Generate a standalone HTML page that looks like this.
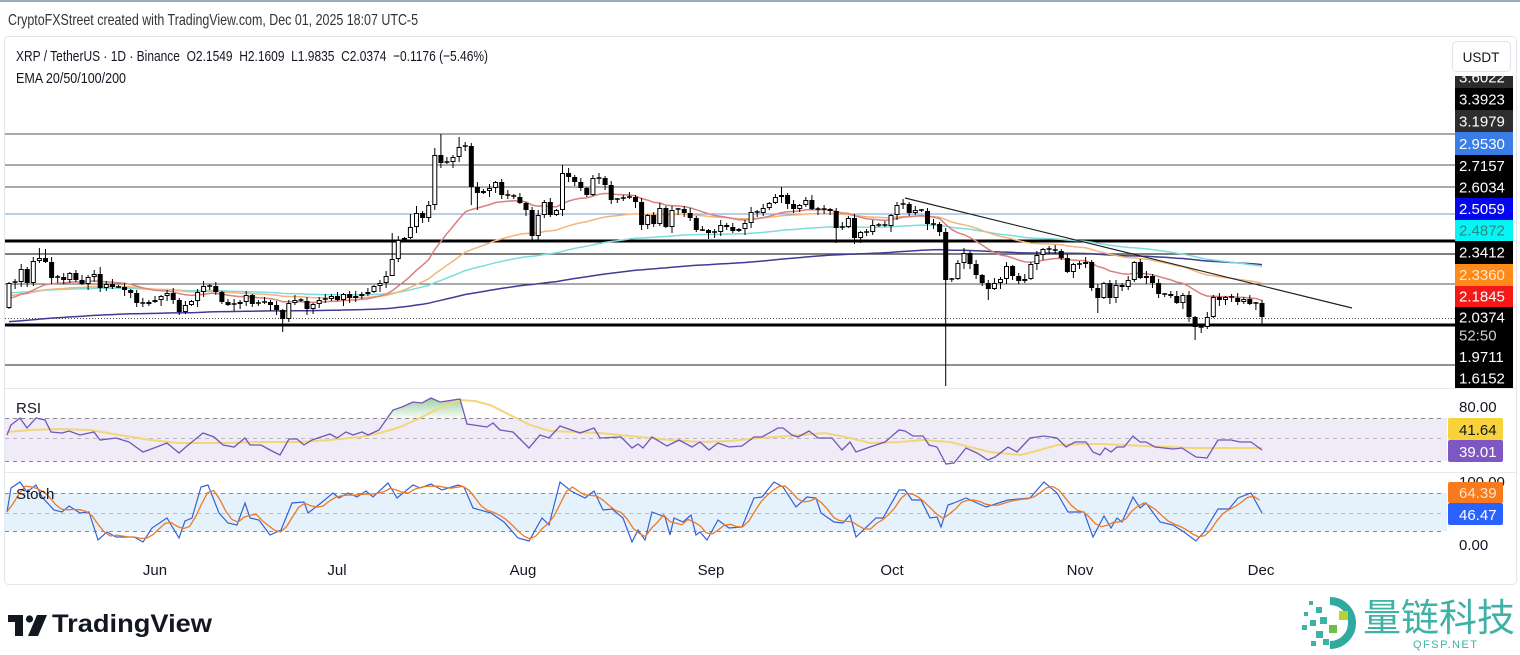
<!DOCTYPE html>
<html><head><meta charset="utf-8">
<style>
html,body{margin:0;padding:0;background:#fff;width:1520px;height:655px;overflow:hidden}
svg{display:block}
text{font-family:"Liberation Sans",sans-serif}
</style></head><body>
<svg id="s" width="1520" height="655" viewBox="0 0 1520 655" xmlns="http://www.w3.org/2000/svg">
<defs>
<clipPath id="mainClip"><rect x="5" y="37" width="1450" height="351"/></clipPath>
<clipPath id="colClip"><rect x="1450" y="76" width="70" height="312"/></clipPath>
<linearGradient id="gOB" x1="0" y1="0" x2="0" y2="1">
<stop offset="0" stop-color="#4caf50" stop-opacity="0.55"/><stop offset="1" stop-color="#4caf50" stop-opacity="0.05"/>
</linearGradient>
</defs>
<rect width="1520" height="655" fill="#fff"/>
<rect x="0" y="0" width="1520" height="2" fill="#9aabbb"/>
<rect x="4.5" y="36.5" width="1512" height="548" rx="4" fill="none" stroke="#e3e6ec"/>

<text x="8" y="25" font-size="16" fill="#333" textLength="410" lengthAdjust="spacingAndGlyphs">CryptoFXStreet created with TradingView.com, Dec 01, 2025 18:07 UTC-5</text>
<text x="16" y="61" font-size="15" fill="#131722" textLength="472" lengthAdjust="spacingAndGlyphs">XRP / TetherUS · 1D · Binance&#160; O2.1549&#160; H2.1609&#160; L1.9835&#160; C2.0374&#160; −0.1176 (−5.46%)</text>
<text x="16" y="83" font-size="15" fill="#131722" textLength="110" lengthAdjust="spacingAndGlyphs">EMA 20/50/100/200</text>

<!-- USDT box -->
<rect x="1452.5" y="41.5" width="58" height="30" rx="4" fill="#fff" stroke="#e0e3eb"/>
<text x="1481" y="62" font-size="13.5" fill="#131722" text-anchor="middle">USDT</text>

<!-- main pane horizontal lines -->
<g clip-path="url(#mainClip)">
<line x1="5" y1="134" x2="1455" y2="134" stroke="#555" stroke-width="1"/>
<line x1="5" y1="165" x2="1455" y2="165" stroke="#555" stroke-width="1"/>
<line x1="5" y1="187" x2="1455" y2="187" stroke="#555" stroke-width="1"/>
<line x1="5" y1="214" x2="1455" y2="214" stroke="#6f9fd8" stroke-width="1"/>
<line x1="5" y1="241" x2="1455" y2="241" stroke="#000" stroke-width="3"/>
<line x1="5" y1="254" x2="1455" y2="254" stroke="#555" stroke-width="1.4"/>
<line x1="5" y1="284" x2="1455" y2="284" stroke="#555" stroke-width="1"/>
<line x1="5" y1="318.5" x2="1455" y2="318.5" stroke="#444" stroke-width="1" stroke-dasharray="1,2"/>
<line x1="5" y1="325" x2="1455" y2="325" stroke="#000" stroke-width="3"/>
<line x1="5" y1="365" x2="1455" y2="365" stroke="#222" stroke-width="1"/>
<g id="emas"></g>
<g id="candles"></g>
<line x1="905" y1="198" x2="1352" y2="308" stroke="#222" stroke-width="1.2"/>
</g>

<!-- price label column -->
<g clip-path="url(#colClip)" font-size="15">
<rect x="1455" y="66" width="58" height="22" fill="#2b2b2b"/><text x="1459" y="82.5" fill="#fff">3.6022</text>
<rect x="1455" y="88" width="58" height="22" fill="#000"/><text x="1459" y="104.5" fill="#fff">3.3923</text>
<rect x="1455" y="110" width="58" height="22" fill="#2e2e2e"/><text x="1459" y="126.5" fill="#fff">3.1979</text>
<rect x="1455" y="132" width="58" height="23" fill="#3b7de6"/><text x="1459" y="149" fill="#fff">2.9530</text>
<rect x="1455" y="155" width="58" height="22" fill="#000"/><text x="1459" y="171" fill="#fff">2.7157</text>
<rect x="1455" y="177" width="58" height="21" fill="#000"/><text x="1459" y="192.5" fill="#fff">2.6034</text>
<rect x="1455" y="198" width="58" height="22" fill="#0606ee"/><text x="1459" y="214" fill="#fff">2.5059</text>
<rect x="1455" y="220" width="58" height="21" fill="#06f4f4"/><text x="1459" y="235.5" fill="#2c8888">2.4872</text>
<rect x="1455" y="241" width="58" height="23" fill="#000"/><text x="1459" y="257.5" fill="#fff">2.3412</text>
<rect x="1455" y="264" width="58" height="22" fill="#ff8a1c"/><text x="1459" y="280" fill="#ffe8c8">2.3360</text>
<rect x="1455" y="286" width="58" height="21" fill="#f41818"/><text x="1459" y="301.5" fill="#fff">2.1845</text>
<rect x="1455" y="307" width="58" height="39" fill="#000"/><text x="1459" y="322.5" fill="#fff">2.0374</text><text x="1459" y="340.5" fill="#d0d0d0">52:50</text>
<rect x="1455" y="346" width="58" height="22" fill="#000"/><text x="1459" y="362" fill="#fff">1.9711</text>
<rect x="1455" y="368" width="58" height="20" fill="#000"/><text x="1459" y="383.5" fill="#fff">1.6152</text>
</g>

<!-- pane separators -->
<line x1="5" y1="388.5" x2="1517" y2="388.5" stroke="#e6e8ee"/>
<line x1="5" y1="472.5" x2="1517" y2="472.5" stroke="#e6e8ee"/>

<!-- RSI pane -->
<rect x="5" y="418" width="1442" height="43" fill="#efebf7"/>
<g stroke="#8a8a8a" stroke-width="1" stroke-dasharray="4,4">
<line x1="5" y1="418.5" x2="1445" y2="418.5"/>
<line x1="5" y1="438.5" x2="1445" y2="438.5" stroke="#b8b8c0"/>
<line x1="5" y1="461.5" x2="1445" y2="461.5"/>
</g>
<polygon points="384,418 393,410 402,407 413,402 422,403 431,398 440,402 460,399 464,418" fill="url(#gOB)"/>
<polyline fill="none" stroke="#f3d67a" stroke-width="2" points="7,432 30,430 60,429 90,430 120,435 150,440 180,443 220,443 260,442 300,442 330,440 360,437 380,433 400,427 420,418 440,408 460,400 475,401 490,405 510,415 530,425 550,431 600,433 640,437 670,440 700,442 730,441 760,438 790,436 825,433 850,438 870,443 900,442 923,440 950,442 970,447 990,452 1021,455 1040,450 1057,445 1080,444 1102,444 1146,446 1191,448 1262,448"/>
<polyline fill="none" stroke="#7256b8" stroke-width="1.3" points="7,435 11,425 20,418 27,428 36,418 45,420 51,432 62,433 69,431 80,435 94,432 100,440 116,438 129,442 143,452 154,448 167,443 179,453 187,446 203,433 214,437 223,445 234,447 245,438 250,445 261,445 270,450 280,455 289,439 297,439 304,445 312,440 330,434 337,438 346,432 353,435 362,432 368,435 379,430 393,410 402,407 413,402 422,403 431,398 440,402 460,399 467,424 487,427 493,423 500,430 513,432 529,448 540,435 549,438 560,426 580,433 594,428 600,438 621,437 632,448 638,444 643,448 652,437 667,446 679,440 692,447 700,442 709,450 718,443 729,447 742,446 754,437 762,437 778,428 783,428 792,435 798,437 809,431 818,438 832,438 842,450 850,442 856,452 870,447 885,442 899,430 905,431 913,436 923,436 929,445 937,447 946,464 954,463 966,448 977,453 988,460 995,457 1008,447 1017,452 1030,438 1044,436 1057,438 1066,447 1075,442 1086,442 1093,452 1100,455 1105,448 1111,452 1117,447 1124,447 1133,436 1140,442 1146,442 1155,447 1173,449 1182,448 1196,457 1207,458 1218,440 1231,440 1240,442 1251,442 1262,450"/>
<text x="16" y="413" font-size="15" fill="#131722">RSI</text>
<text x="1459" y="412" font-size="15" fill="#131722">80.00</text>
<rect x="1448" y="418" width="55" height="22" rx="2" fill="#f7d23a"/><text x="1459" y="435" font-size="15" fill="#131722">41.64</text>
<rect x="1448" y="440" width="55" height="22" rx="2" fill="#7e57c2"/><text x="1459" y="457" font-size="15" fill="#fff">39.01</text>

<!-- Stoch pane -->
<rect x="5" y="493" width="1442" height="38" fill="#e5f1fb"/>
<g stroke="#8a8a8a" stroke-width="1" stroke-dasharray="4,4">
<line x1="5" y1="493.5" x2="1445" y2="493.5"/>
<line x1="5" y1="513.5" x2="1445" y2="513.5" stroke="#b8bcc4"/>
<line x1="5" y1="531.5" x2="1445" y2="531.5"/>
</g>
<polyline id="stochK" fill="none" stroke="#3461d8" stroke-width="1.2" points="7,512 11,488 20,482 27,492 36,485 42,497 54,510 62,512 69,506 80,513 89,512 98,540 107,532 116,537 134,537 143,542 152,528 167,518 179,538 185,521 192,518 201,487 208,485 219,513 228,523 237,525 245,503 250,518 259,520 270,535 281,530 292,503 304,502 308,513 321,503 333,493 339,498 348,493 357,497 366,491 373,497 388,483 397,498 413,485 420,488 431,484 442,490 458,485 464,487 473,508 491,513 504,522 518,538 529,541 542,518 549,525 560,482 571,491 585,498 594,491 603,510 612,509 623,518 632,542 638,530 645,540 652,512 665,517 670,535 674,518 683,522 691,515 696,535 700,532 707,540 718,520 729,528 742,527 754,498 762,497 774,482 783,487 796,507 807,497 816,498 821,513 834,522 843,523 850,515 856,537 876,518 883,518 899,490 905,490 912,500 921,500 930,518 937,517 941,527 948,505 954,503 966,498 986,507 1008,500 1030,498 1044,482 1057,493 1068,512 1084,512 1093,537 1104,516 1111,528 1117,518 1122,522 1133,497 1140,508 1146,503 1160,522 1173,525 1184,532 1196,541 1204,532 1218,509 1229,509 1238,498 1251,493 1262,513"/>
<polyline id="stochD" fill="none" stroke="#f07a22" stroke-width="1.3" points=""/>
<text x="16" y="499" font-size="15" fill="#131722">Stoch</text>
<text x="1459" y="487" font-size="15" fill="#131722">100.00</text>
<rect x="1448" y="482" width="55" height="21" rx="2" fill="#f97a1e"/><text x="1459" y="498" font-size="15" fill="#ffe3c6">64.39</text>
<rect x="1448" y="503" width="55" height="22" rx="2" fill="#2962ff"/><text x="1459" y="520" font-size="15" fill="#fff">46.47</text>
<text x="1459" y="550" font-size="15" fill="#131722">0.00</text>

<!-- time axis -->
<g font-size="15" fill="#131722" text-anchor="middle">
<text x="155" y="575">Jun</text>
<text x="337" y="575">Jul</text>
<text x="523" y="575">Aug</text>
<text x="711" y="575">Sep</text>
<text x="892" y="575">Oct</text>
<text x="1080" y="575">Nov</text>
<text x="1261" y="575">Dec</text>
</g>

<!-- TradingView logo -->
<g fill="#131722">
<rect x="8" y="615" width="15" height="7"/>
<rect x="15" y="615" width="8" height="21"/>
<circle cx="29.5" cy="619" r="3.6"/>
<polygon points="37,615 47,615 38,636 28,636"/>
</g>
<text x="52" y="632" font-size="25" font-weight="bold" fill="#131722" textLength="160" lengthAdjust="spacingAndGlyphs">TradingView</text>

<!-- QFSP logo -->
<path d="M1330 601 A22 22 0 0 1 1330 645" fill="none" stroke="#2eaa9e" stroke-width="8"/>
<g fill="#3bb3a6">
<rect x="1309" y="601" width="4" height="4"/>
<rect x="1316" y="607" width="6" height="6"/>
<rect x="1304" y="612" width="4" height="4"/>
<rect x="1320" y="617" width="7" height="7"/>
<rect x="1310" y="620" width="6" height="6"/>
<rect x="1302" y="625" width="5" height="5"/>
<rect x="1316" y="631" width="7" height="7"/>
<rect x="1311" y="641" width="5" height="5"/>
<rect x="1323" y="639" width="6" height="6"/>
</g>
<rect x="1339" y="611" width="9" height="9" fill="#b6d335"/>
<rect x="1329" y="625" width="8" height="8" fill="#6cc04a"/>
<text x="1363" y="631" font-size="38" fill="#3fb2a6" textLength="152" lengthAdjust="spacingAndGlyphs" style="font-family:'Liberation Sans','Noto Sans CJK SC',sans-serif">量链科技</text>
<text x="1413" y="648" font-size="11" fill="#3fb2a6" textLength="64" lengthAdjust="spacing">QFSP.NET</text>
</svg>
<script>
(function(){
const NS="http://www.w3.org/2000/svg";
function el(tag,attrs,parent){const e=document.createElementNS(NS,tag);for(const k in attrs)e.setAttribute(k,attrs[k]);parent.appendChild(e);return e;}
const C=[283,282,269,283,261,258,262,278,277,280,
273,280,284,277,274,288,284,287,287,290,
293,303,304,302,300,296,293,300,312,305,
301,292,286,286,292,302,305,304,302,295,
304,303,302,305,310,319,303,300,301,309,
304,300,299,296,300,294,298,296,294,292,
286,283,276,259,240,238,227,213,218,205,
155,163,162,157,147,146,187,193,191,188,
182,195,196,197,203,210,236,215,202,215,
210,173,177,182,188,195,178,178,185,200,
199,198,197,202,225,215,224,208,227,210,
209,213,218,230,230,233,232,225,227,231,
229,223,212,213,208,203,197,195,204,209,
205,200,209,209,209,211,228,227,218,238,
232,232,225,225,226,215,205,204,213,210,
211,224,224,232,280,279,263,253,264,275,
283,289,283,279,266,276,281,279,264,255,
249,250,251,258,272,264,264,262,288,298,
283,298,285,287,280,262,278,276,283,294,
294,296,303,295,317,327,327,317,297,300,
297,298,302,299,304,303,317];
const n=C.length, step=(1262-9)/(n-1);
const ov={5:{h:248},6:{h:249},15:{h:267},45:{l:332},63:{h:233,l:265},64:{l:262},66:{h:214},67:{h:206},70:{h:148,l:210},71:{h:134,l:168},74:{h:137},75:{h:142},76:{l:205},77:{l:210},91:{h:165},127:{h:187},136:{l:243},154:{l:386},161:{l:300},179:{l:313},195:{l:340},196:{l:333},206:{l:324}};
let wk='',bb='',wb='';
for(let i=0;i<n;i++){
 const x=9+i*step, o=i?C[i-1]:308, c=C[i];
 const top=Math.min(o,c), bot=Math.max(o,c);
 let h=top-(1+((i*7)%5)), l=bot+(1+((i*11)%6));
 if(ov[i]){if(ov[i].h)h=ov[i].h;if(ov[i].l)l=ov[i].l;}
 const xs=x.toFixed(1);
 wk+='M'+xs+' '+h+'V'+l;
 if(bot-top<1.5){bb+='M'+(x-2.5).toFixed(1)+' '+(top-0.75)+'h5v1.5h-5z';}
 else if(c<o){wb+='M'+(x-2).toFixed(1)+' '+(top+0.5)+'h4v'+(bot-top-1)+'h-4z';}
 else{bb+='M'+(x-2.5).toFixed(1)+' '+top+'h5v'+(bot-top)+'h-5z';}
}
const g=document.getElementById('candles');
el('path',{d:wk,stroke:'#000','stroke-width':'1',fill:'none'},g);
el('path',{d:bb,fill:'#000'},g);
el('path',{d:wb,fill:'#fff',stroke:'#000','stroke-width':'1'},g);
function ema(p,seed){const a=2/(p+1);let v=seed;return C.map(c=>{v=v+a*(c-v);return v;});}
const ge=document.getElementById('emas');
const defs=[[200,322,'#3d3d96'],[100,293,'#7fdcdc'],[50,296,'#f3b57a'],[20,300,'#d98080']];
defs.forEach(d=>{const e=ema(d[0],d[1]);el('polyline',{points:e.map((v,i)=>(9+i*step).toFixed(1)+','+v.toFixed(1)).join(' '),fill:'none',stroke:d[2],'stroke-width':'1.5'},ge);});
// stoch D
const kp=document.getElementById('stochK').getAttribute('points').trim().split(/\s+/).map(s=>s.split(',').map(Number));
function interp(x){for(let k=0;k<kp.length-1;k++){if(x>=kp[k][0]&&x<=kp[k+1][0]){const t=(x-kp[k][0])/(kp[k+1][0]-kp[k][0]);return kp[k][1]+t*(kp[k+1][1]-kp[k][1]);}}return kp[kp.length-1][1];}
const xsr=[],ks=[];for(let x=7;x<=1262.01;x+=6.08){xsr.push(x);ks.push(interp(x));}
const dp=[];for(let j=0;j<ks.length;j++){const a=ks[Math.max(0,j-2)],b=ks[Math.max(0,j-1)],c=ks[j];dp.push(xsr[j].toFixed(1)+','+((a+b+c)/3).toFixed(1));}
document.getElementById('stochD').setAttribute('points',dp.join(' '));
})();
</script>
</body></html>
